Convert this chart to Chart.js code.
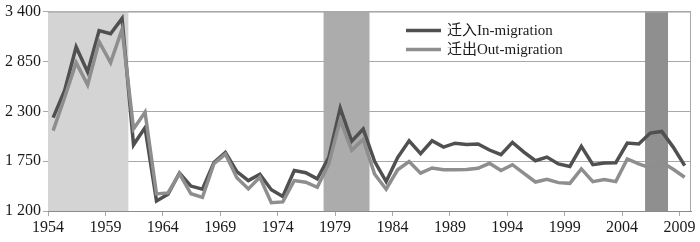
<!DOCTYPE html>
<html>
<head>
<meta charset="utf-8">
<script src="https://cdn.jsdelivr.net/npm/chart.js@4/dist/chart.umd.min.js"></script>
<style>
html,body{margin:0;padding:0;background:#fff;}
#wrap{width:700px;height:242px;position:relative;}
</style>
</head>
<body>
<div id="wrap"><canvas id="c" width="700" height="242"></canvas></div>
<script>
// ---- data ----
const years = [1954,1955,1956,1957,1958,1959,1960,1961,1962,1963,1964,1965,1966,1967,1968,1969,
  1970,1971,1972,1973,1974,1975,1976,1977,1978,1979,1980,1981,1982,1983,1984,1985,1986,1987,1988,1989,
  1990,1991,1992,1993,1994,1995,1996,1997,1998,1999,2000,2001,2002,2003,2004,2005,2006,2007,2008,2009];
const inMigration = [2230,2530,3010,2735,3190,3155,3325,1930,2120,1310,1385,1620,1475,1440,1735,1845,
  1635,1536,1605,1435,1360,1646,1622,1554,1790,2335,1970,2104,1745,1525,1790,1975,1832,1975,1905,1948,
  1935,1939,1873,1821,1957,1850,1755,1795,1719,1692,1913,1711,1730,1733,1950,1939,2060,2078,1905,1701];
const outMigration = [2086,2452,2837,2591,3068,2837,3204,2105,2290,1389,1400,1612,1390,1350,1722,1828,
  1568,1444,1572,1292,1300,1536,1517,1462,1719,2205,1872,1990,1605,1440,1655,1746,1618,1675,1655,1656,
  1658,1671,1726,1646,1711,1616,1520,1550,1513,1505,1664,1524,1547,1524,1774,1719,1675,1737,1660,1572];
const seriesLabels = ['迁入In-migration', '迁出Out-migration'];
const xTickYears = [1954,1959,1964,1969,1974,1979,1984,1989,1994,1999,2004,2009];
const yTickValues = [1200,1750,2300,2850,3400];
const bandStarts = [1954, 1978, 2006];
const bandEnds = [1961, 1982, 2008];

// ---- styles ----
const bandColors = ['#d4d4d4', '#acacac', '#8f8f8f'];
const lineColors = ['#505050', '#8e8e8e'];
const gridColor = '#a8a8a8';
const serif = "'Liberation Serif','Times New Roman','Noto Sans CJK SC',serif";
const centerShift = 0.45; // points sit in the middle of each year interval

function fmt(v){ return String(v).replace(/\B(?=(\d{3})+(?!\d))/g, ' '); }

const bandsPlugin = {
  id: 'bands',
  beforeDatasetsDraw(chart){
    const {ctx, chartArea:a, scales:{x}} = chart;
    ctx.save();
    for (let i=0;i<bandStarts.length;i++){
      const x1 = x.getPixelForValue(bandStarts[i]);
      const x2 = x.getPixelForValue(bandEnds[i]);
      ctx.fillStyle = bandColors[i];
      ctx.fillRect(x1, a.top, x2-x1, a.bottom-a.top);
    }
    ctx.restore();
  },
  afterDraw(chart){
    const {ctx, chartArea:a} = chart;
    ctx.save();
    // frame
    ctx.strokeStyle = gridColor;
    ctx.lineWidth = 1;
    ctx.beginPath();
    ctx.moveTo(a.left, a.top+0.5); ctx.lineTo(a.right, a.top+0.5);
    ctx.moveTo(a.right-0.5, a.top); ctx.lineTo(a.right-0.5, a.bottom);
    ctx.stroke();
    // legend
    const ds = chart.data.datasets;
    ctx.font = "15px " + serif;
    ctx.textBaseline = 'middle';
    ctx.textAlign = 'left';
    const lx = a.left + 358, ly = a.top + 19, gap = 19;
    ds.forEach((d,i)=>{
      const y = ly + i*gap;
      ctx.strokeStyle = d.borderColor;
      ctx.lineWidth = 3.5;
      ctx.beginPath(); ctx.moveTo(lx, y); ctx.lineTo(lx+35, y); ctx.stroke();
      ctx.fillStyle = '#1a1a1a';
      ctx.fillText(d.label, lx+41, y);
    });
    ctx.restore();
  }
};

const toPoints = vals => years.map((yr,i)=>({x: yr + centerShift, y: vals[i]}));

new Chart(document.getElementById('c'), {
  type: 'line',
  data: {
    datasets: [
      {label: seriesLabels[0], data: toPoints(inMigration), borderColor: lineColors[0], borderWidth: 3.5, pointRadius: 0, tension: 0, order: 2},
      {label: seriesLabels[1], data: toPoints(outMigration), borderColor: lineColors[1], borderWidth: 3.5, pointRadius: 0, tension: 0, order: 1}
    ]
  },
  options: {
    responsive: false,
    animation: false,
    layout: {padding: {top: 10, right: 9, left: 0, bottom: 0}},
    plugins: {legend: {display: false}, tooltip: {enabled: false}},
    scales: {
      x: {
        type: 'linear', min: 1954, max: 2010,
        afterBuildTicks(s){ s.ticks = xTickYears.map(v=>({value:v})); },
        afterFit(s){ s.height = 31; },
        grid: {drawOnChartArea: false, drawTicks: true, tickLength: 5, color: gridColor},
        border: {display: true, color: '#8a8a8a', width: 1},
        ticks: {color: '#1a1a1a', font: {family: serif, size: 16}, padding: 2, maxRotation: 0, autoSkip: false,
                callback: v => String(v)}
      },
      y: {
        min: 1200, max: 3400,
        afterBuildTicks(s){ s.ticks = yTickValues.map(v=>({value:v})); },
        afterFit(s){ s.width = 48; },
        grid: {color: gridColor, tickLength: 5, drawTicks: true},
        border: {display: true, color: '#8a8a8a', width: 1},
        ticks: {color: '#1a1a1a', font: {family: serif, size: 16}, padding: 2, callback: v => fmt(v)}
      }
    }
  },
  plugins: [bandsPlugin]
});
</script>
</body>
</html>
